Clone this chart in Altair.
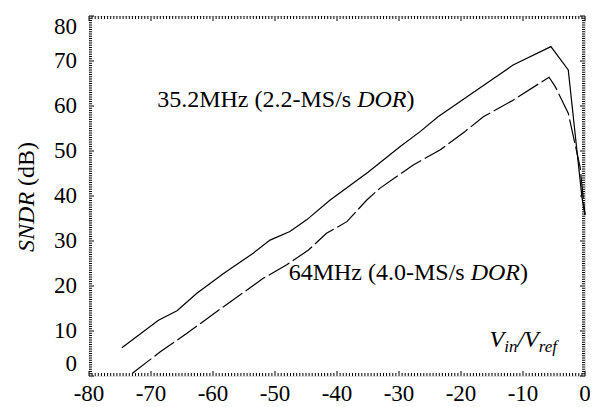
import altair as alt
import numpy as np
import pandas as pd

# ---------------- data ----------------
solid_x = [-74.7, -68.8, -65.8, -62.6, -58.3, -53.5, -50.8, -47.6, -44.9, -41.1,
           -35.0, -29.8, -26.6, -23.7, -17.5, -11.6, -5.5, -2.7, -0.5, 0.0]
solid_y = [6.3, 12.4, 14.5, 18.4, 22.8, 27.3, 30.2, 32.1, 34.7, 39.1,
           45.3, 51.0, 54.3, 57.6, 63.5, 69.1, 73.2, 68.0, 39.8, 35.8]

dash_x = [-73.0, -68.5, -64.2, -58.3, -51.9, -48.1, -44.6, -41.7, -38.4, -37.4,
          -35.2, -33.1, -27.7, -23.4, -19.4, -16.4, -11.6, -5.8, -4.8, -2.7, -0.8, 0.0]
dash_y = [0.6, 5.4, 9.5, 15.4, 21.7, 24.7, 28.0, 31.7, 34.3, 35.8,
          39.1, 41.7, 46.9, 50.2, 54.3, 57.6, 61.3, 66.4, 64.3, 58.4, 46.5, 35.8]

x_major = [-80, -70, -60, -50, -40, -30, -20, -10, 0]
y_major = [0, 10, 20, 30, 40, 50, 60, 70, 80]
x_labels = ["-80", "-70", "-60", "-50", "-40", "-30", "-20", "-10", "0"]
y_labels = ["0", "10", "20", "30", "40", "50", "60", "70", "80"]
x_minor = np.arange(-80, 0.001, 0.5).round(1).tolist()
y_minor = np.arange(0, 80.001, 0.5).round(1).tolist()

label1 = [("35.2MHz (2.2-MS/s ", "normal"), ("DOR", "italic"), (")", "normal")]
label2 = [("64MHz (4.0-MS/s ", "normal"), ("DOR", "italic"), (")", "normal")]
label1_pos = (-69.0, 59.8)
label2_pos = (-47.8, 21.3)
xlab = [("V", "italic", 24, 0), ("in", "italic", 17, 1), ("/V", "italic", 24, 0), ("ref", "italic", 17, 1)]
xlab_pos = (-15.4, 6.4)
ytitle = [("SNDR", "italic", " "), ("(dB)", "normal", "")]
ytitle_center = 39.8

# ---------------- layout ----------------
W, H = 496, 360
FONT = "Liberation Serif"
FS = 24
TFS = 23
XPU = W / 80.0   # px per x unit
YPU = H / 80.0   # px per y unit
MAJ, MIN = 5, 3  # tick lengths in px (inward)

# Times (Liberation Serif) advance widths /1000
REG = {**{d: 500 for d in "0123456789"}, ".": 250, " ": 250, "(": 333, ")": 333, "-": 333,
       "/": 278, "M": 889, "H": 722, "z": 444, "S": 556, "s": 389, "B": 667, "d": 500}
ITA = {"D": 722, "O": 722, "R": 611, "S": 500, "N": 667, "V": 611, "i": 278, "n": 500,
       "r": 389, "e": 444, "f": 278, "/": 278, " ": 250}


def tw(s, style, size):
    tab = ITA if style == "italic" else REG
    return sum(tab.get(c, 500) for c in s) * size / 1000.0


def seg_rows(segs, pos):
    rows = []
    x = pos[0]
    for s, st in segs:
        rows.append({"x": x, "y": pos[1], "t": s.strip(), "style": st})
        x += tw(s, st, FS) / XPU
    return pd.DataFrame(rows)


xs = alt.Scale(domain=[-80, 0], nice=False, zero=False)
ys = alt.Scale(domain=[0, 80], nice=False, zero=False)


def X(f):
    return alt.X(f, scale=xs, axis=None)


def Y(f):
    return alt.Y(f, scale=ys, axis=None)


df_s = pd.DataFrame({"x": solid_x, "y": solid_y})
df_d = pd.DataFrame({"x": dash_x, "y": dash_y})

solid = alt.Chart(df_s).mark_line(color="black", strokeWidth=1.2).encode(x=X("x:Q"), y=Y("y:Q"))
dashed = alt.Chart(df_d).mark_line(color="black", strokeWidth=1.2, strokeDash=[24, 4]).encode(
    x=X("x:Q"), y=Y("y:Q"))

layers = [solid, dashed]

# tick labels as text
xl = pd.DataFrame({"lx": x_major, "t": x_labels})
layers.append(alt.Chart(xl).mark_text(font=FONT, fontSize=TFS, align="center", baseline="top",
                                      color="black").encode(
    x=X("lx:Q"), y=alt.value(H + 7), text="t:N"))
yl = pd.DataFrame({"ly": y_major, "t": y_labels})
for sel, bl in [(yl["ly"] == 0, "bottom"), ((yl["ly"] > 0) & (yl["ly"] < 80), "middle"),
                (yl["ly"] == 80, "top")]:
    layers.append(alt.Chart(yl[sel]).mark_text(font=FONT, fontSize=TFS, align="right", baseline=bl,
                                               color="black").encode(
        y=Y("ly:Q"), x=alt.value(-12), text="t:N"))


def text_layer(df, style, size):
    return alt.Chart(df).mark_text(font=FONT, fontSize=size, fontStyle=style, align="left",
                                   baseline="alphabetic", color="black").encode(
        x=X("x:Q"), y=Y("y:Q"), text="t:N")


for segs, pos in [(label1, label1_pos), (label2, label2_pos)]:
    d = seg_rows(segs, pos)
    for st in ["normal", "italic"]:
        layers.append(text_layer(d[d["style"] == st], st, FS))

# V_in / V_ref
rows = []
x = xlab_pos[0]
for s, st, size, sub in xlab:
    rows.append({"x": x, "y": xlab_pos[1] - (5 / YPU if sub else 0), "t": s, "size": size})
    x += tw(s, st, size) / XPU
xd = pd.DataFrame(rows)
for size in [24, 17]:
    layers.append(text_layer(xd[xd["size"] == size], "italic", size))

# y title, rotated (SNDR italic)
total = sum(tw(s + sp, st, FS) for s, st, sp in ytitle)
yy = ytitle_center - total / 2 / YPU
rows = []
for s, st, sp in ytitle:
    rows.append({"y": yy, "t": s, "style": st})
    yy += tw(s + sp, st, FS) / YPU
yd = pd.DataFrame(rows)
for st in ["normal", "italic"]:
    layers.append(alt.Chart(yd[yd["style"] == st]).mark_text(
        font=FONT, fontSize=FS, fontStyle=st, align="left", baseline="middle",
        angle=270, color="black").encode(
        x=alt.value(-62), y=Y("y:Q"), text="t:N"))

# inward ticks on all four sides: one rule layer, all ends in data units (drawn last)
tick_rows = []
for v in x_minor:
    ln = (MAJ if v % 10 == 0 else MIN) / YPU
    tick_rows.append({"tx": v, "tx2": v, "ty": 0.0, "ty2": ln})
    tick_rows.append({"tx": v, "tx2": v, "ty": 80.0, "ty2": 80.0 - ln})
for v in y_minor:
    ln = (MAJ if v % 10 == 0 else MIN) / XPU
    tick_rows.append({"tx": -80.0, "tx2": -80.0 + ln, "ty": v, "ty2": v})
    tick_rows.append({"tx": 0.0, "tx2": -ln, "ty": v, "ty2": v})
ticks = pd.DataFrame(tick_rows)
layers.append(alt.Chart(ticks).mark_rule(color="#000000", strokeWidth=1).encode(
    x=X("tx:Q"), x2="tx2:Q", y=Y("ty:Q"), y2="ty2:Q"))

chart = alt.layer(*layers).properties(
    width=W, height=H,
    autosize=alt.AutoSizeParams(type="none"),
    padding={"left": 81, "top": 8, "right": 5, "bottom": 31},
).configure_view(stroke="black", strokeWidth=1.5).configure(background="white")

chart.save("out.html", embed_options={"renderer": "svg", "actions": False})
